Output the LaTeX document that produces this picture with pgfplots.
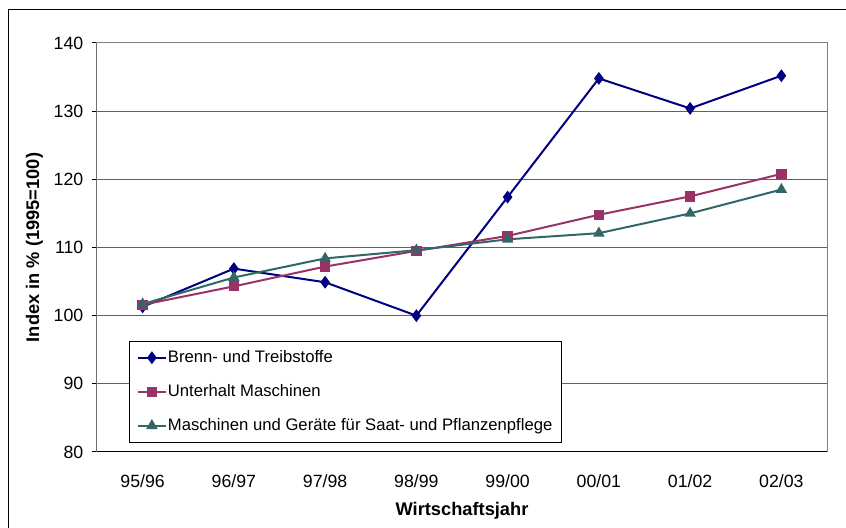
\documentclass[border=0pt]{standalone}
\usepackage{pgfplots}
\pgfplotsset{compat=1.18}
\usepackage{fontspec}
\setmainfont{Liberation Sans}
\definecolor{cBrenn}{HTML}{000080}
\definecolor{cUnter}{HTML}{993366}
\definecolor{cMasch}{HTML}{336666}
\definecolor{cGrid}{HTML}{606060}
\begin{document}
\begin{tikzpicture}
\begin{axis}[
  at={(0,0)}, anchor=south west,
  width=547.5pt, height=306.75pt, scale only axis,
  xmin=-0.5, xmax=7.5, ymin=80, ymax=140,
  ytick={80,90,...,140},
  xtick={0,...,7},
  xticklabels={95/96,96/97,97/98,98/99,99/00,00/01,01/02,02/03},
  xtick style={draw=none},
  extra x ticks={-0.5,0.5,...,7.5},
  extra x tick labels={},
  extra x tick style={major tick length=4.5pt, tick align=outside, tick style={draw=black, line width=0.75pt}, grid=none},
  ymajorgrids,
  grid style={cGrid, line width=0.75pt},
  y tick style={draw=black, line width=0.75pt},
  major tick length=3.75pt,
  ytick pos=left, xtick pos=bottom,
  tick align=outside,
  axis line style={draw=gray, line width=0.75pt},
  /pgf/number format/assume math mode=true,
  ticklabel style={font=\fontsize{13.3pt}{15pt}\selectfont},
  xticklabel style={anchor=base, yshift=-23pt},
  yticklabel style={xshift=-3pt},
  xlabel={\bfseries Wirtschaftsjahr},
  ylabel={\bfseries Index in \% (1995=100)},
  label style={font=\fontsize{13.7pt}{16pt}\selectfont},
  xlabel style={at={([yshift=-48pt]axis description cs:0.5,0)}, anchor=base},
  ylabel style={at={([xshift=-47pt]axis description cs:0,0.5)}, anchor=center},
  legend style={at={(0.0444,0.0228)}, anchor=south west,
    draw=black, line width=0.75pt, fill=white,
    font=\fontsize{12.5pt}{14pt}\selectfont,
    inner xsep=5.5pt, inner ysep=5.6pt, row sep=12pt,
    nodes={inner sep=1pt, text height=9pt, text depth=2.5pt}},
  legend cell align=left,
  legend image code/.code={\draw[mark repeat=2,mark phase=2,#1] plot coordinates {(0cm,0cm) (0.36cm,0cm) (0.72cm,0cm)};},
]
\addplot[cBrenn, line width=1.5pt, mark=diamond*, mark size=3.6pt, mark options={solid, fill=cBrenn}]
  coordinates {(0,101.3) (1,106.9) (2,104.9) (3,100.0) (4,117.4) (5,134.8) (6,130.4) (7,135.2)};
\addlegendentry{Brenn- und Treibstoffe}
\addplot[cUnter, line width=1.5pt, mark=square*, mark size=3.1pt, mark options={solid, fill=cUnter}]
  coordinates {(0,101.6) (1,104.3) (2,107.2) (3,109.5) (4,111.7) (5,114.8) (6,117.5) (7,120.8)};
\addlegendentry{Unterhalt Maschinen}
\addplot[cMasch, line width=1.5pt, mark=triangle*, mark size=3.5pt, mark options={solid, fill=cMasch}]
  coordinates {(0,101.7) (1,105.6) (2,108.4) (3,109.6) (4,111.2) (5,112.1) (6,115.0) (7,118.5)};
\addlegendentry{Maschinen und Geräte für Saat- und Pflanzenpflege}
\draw[black, line width=0.75pt] (rel axis cs:0,1) -- (rel axis cs:0,0) -- (rel axis cs:1,0);
\end{axis}
\draw[black, line width=0.75pt] (-66pt,-70pt) -- (-66pt,331.5pt) -- (580pt,331.5pt);
\pgfresetboundingbox
\path[use as bounding box] (-72.75pt,-57pt) rectangle (561.75pt,339pt);
\end{tikzpicture}
\end{document}
